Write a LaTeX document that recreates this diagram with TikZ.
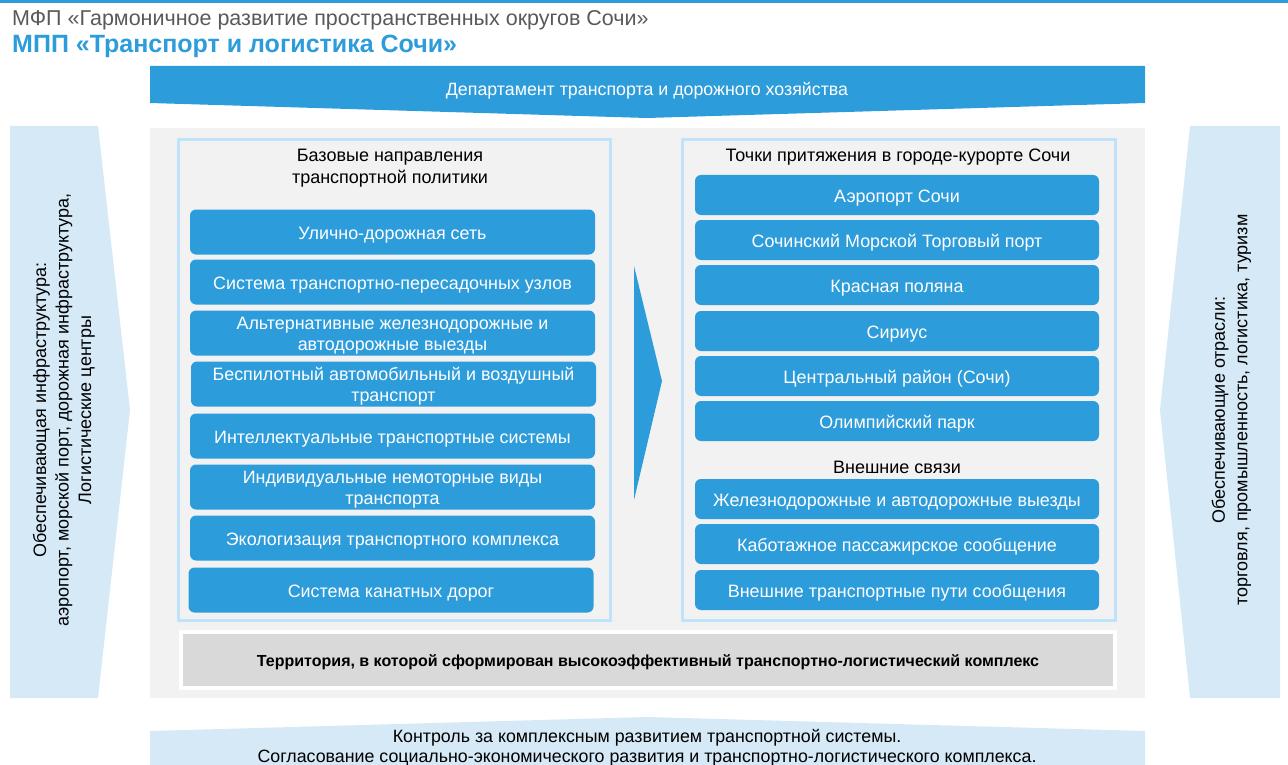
\documentclass[tikz,border=0pt]{standalone}
\usepackage{fontspec}
\setmainfont{Liberation Sans}
\definecolor{sochiblue}{HTML}{2D9CDB}
\definecolor{paleblue}{HTML}{D5E9F6}
\definecolor{frameblue}{HTML}{BEE3FB}
\definecolor{panelgray}{HTML}{F2F2F2}
\definecolor{terrgray}{HTML}{D9D9D9}
\definecolor{headgray}{HTML}{595959}
\newcommand{\boxstrut}{\rule{0pt}{18pt}}
\begin{document}
\begin{tikzpicture}[
        x=1pt, y=-1pt,
        dirbox/.style={rectangle, rounded corners=6pt, fill=sochiblue, text=white, minimum width=405pt, minimum height=45pt, inner sep=0pt, align=center, font=\fontsize{17.9}{21}\selectfont, execute at begin node={\boxstrut}},
        pointbox/.style={dirbox, minimum width=404pt, minimum height=40pt},
        framebox/.style={rectangle, draw=frameblue, line width=3pt, fill=panelgray, inner sep=0pt},
        frametitle/.style={align=center, inner sep=0pt, font=\fontsize{18}{22}\selectfont},
        sidetext/.style={rotate=90, align=center, inner sep=0pt, font=\fontsize{18}{22.5}\selectfont},
        terrbox/.style={rectangle, draw=white, line width=4pt, fill=terrgray, inner sep=0pt, minimum width=934pt, minimum height=56pt, font=\bfseries\fontsize{16}{19}\selectfont, execute at begin node={\rule{0pt}{16pt}}},
        bandtext/.style={align=center, inner sep=0pt, font=\fontsize{17.8}{20}\selectfont}
    ]
        \useasboundingbox (0,0) rectangle (1288,765);

        % Заголовки
        \fill[sochiblue] (0,0) rectangle (1288,3);
        \node[anchor=west, inner sep=0pt, text=headgray, font=\fontsize{21.5}{24}\selectfont] (mfp) at (12,20) {МФП «Гармоничное развитие пространственных округов Сочи»};
        \node[anchor=west, inner sep=0pt, text=sochiblue, font=\bfseries\fontsize{25}{28}\selectfont] (mpp) at (12,46) {МПП «Транспорт и логистика Сочи»};

        % Фон и стрелки
        \fill[sochiblue] (150,66) -- (1145,66) -- (1145,103) -- (647,118) -- (150,103) -- cycle;
        \node[text=white, inner sep=0pt, font=\fontsize{17.8}{20}\selectfont] (dept) at (647,91) {Департамент транспорта и дорожного хозяйства};
        \fill[panelgray] (150,128) rectangle (1145,698);
        \fill[paleblue] (10,126) -- (98,126) -- (130,410) -- (98,698) -- (10,698) -- cycle;
        \fill[paleblue] (1190,126) -- (1280,126) -- (1280,698) -- (1190,698) -- (1160,410) -- cycle;
        \fill[paleblue] (150,731) -- (647,717) -- (1145,731) -- (1145,765) -- (150,765) -- cycle;

        \node[sidetext] (infra) at (64,410) {Обеспечивающая инфраструктура:\\аэропорт, морской порт, дорожная инфраструктура,\\Логистические центры};
        \node[sidetext] (branch) at (1231.5,410) {Обеспечивающие отрасли:\\торговля, промышленность, логистика, туризм};
        \node[bandtext] (control) at (647,747.5) {Контроль за комплексным развитием транспортной системы.\\Согласование социально-экономического развития и транспортно-логистического комплекса.};

        % Левая колонка
        \node[framebox, minimum width=432pt, minimum height=480pt] (leftframe) at (394,380) {};
        \node[frametitle] (basetitle) at (390,168) {Базовые направления\\транспортной политики};
        \node[dirbox] (d1) at (392.5,232) {Улично-дорожная сеть};
        \node[dirbox] (d2) at (392.5,282) {Система транспортно-пересадочных узлов};
        \node[dirbox] (d3) at (392.5,333) {\boxstrut Альтернативные железнодорожные и\\автодорожные выезды};
        \node[dirbox] (d4) at (393.5,384) {\boxstrut Беспилотный автомобильный и воздушный\\транспорт};
        \node[dirbox] (d5) at (392.5,436) {Интеллектуальные транспортные системы};
        \node[dirbox] (d6) at (392.5,487) {\boxstrut Индивидуальные немоторные виды\\транспорта};
        \node[dirbox] (d7) at (392.5,538) {Экологизация транспортного комплекса};
        \node[dirbox] (d8) at (391,590) {Система канатных дорог};

        % Стрелка между колонками
        \fill[sochiblue] (634,266) -- (662,381) -- (634,500) -- cycle;

        % Правая колонка
        \node[framebox, minimum width=433pt, minimum height=480pt] (rightframe) at (898.5,380) {};
        \node[frametitle] (pointtitle) at (898,157) {Точки притяжения в городе-курорте Сочи};
        \node[pointbox] (p1) at (897,195) {Аэропорт Сочи};
        \node[pointbox] (p2) at (897,240) {Сочинский Морской Торговый порт};
        \node[pointbox] (p3) at (897,285) {Красная поляна};
        \node[pointbox] (p4) at (897,331) {Сириус};
        \node[pointbox] (p5) at (897,376) {Центральный район (Сочи)};
        \node[pointbox] (p6) at (897,421) {Олимпийский парк};
        \node[frametitle] (exttitle) at (897,467.5) {Внешние связи};
        \node[pointbox] (e1) at (897,499) {Железнодорожные и автодорожные выезды};
        \node[pointbox] (e2) at (897,544) {Каботажное пассажирское сообщение};
        \node[pointbox] (e3) at (897,590) {Внешние транспортные пути сообщения};

        % Территория
        \node[terrbox] (terr) at (648,660) {Территория, в которой сформирован высокоэффективный транспортно-логистический комплекс};
    \end{tikzpicture}
\end{document}
